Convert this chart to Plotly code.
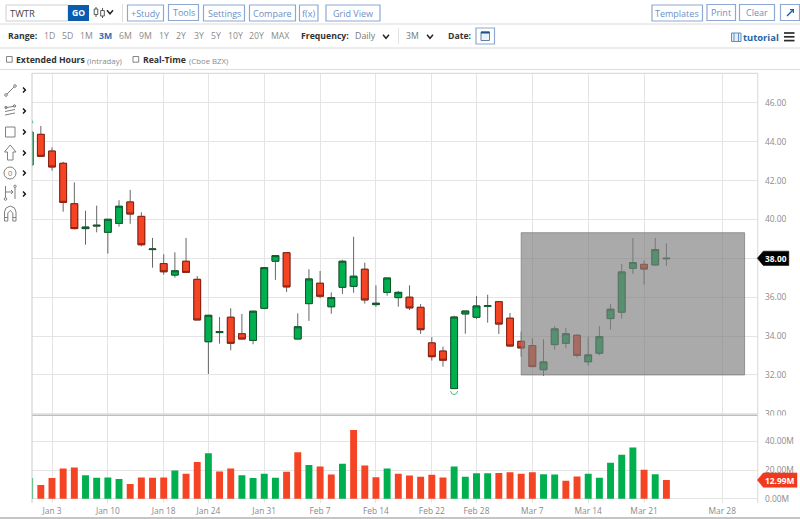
import plotly.graph_objects as go

W, H = 800, 519

# Trading sessions on the axis, followed by the calendar days still to come
sessions = ["Dec 30", "Dec 31", "Jan 3", "Jan 4", "Jan 5", "Jan 6", "Jan 7", "Jan 10", "Jan 11", "Jan 12",
            "Jan 13", "Jan 14", "Jan 18", "Jan 19", "Jan 20", "Jan 21", "Jan 24", "Jan 25", "Jan 26", "Jan 27",
            "Jan 28", "Jan 31", "Feb 1", "Feb 2", "Feb 3", "Feb 4", "Feb 7", "Feb 8", "Feb 9", "Feb 10",
            "Feb 11", "Feb 14", "Feb 15", "Feb 16", "Feb 17", "Feb 18", "Feb 22", "Feb 23", "Feb 24", "Feb 25",
            "Feb 28", "Mar 1", "Mar 2", "Mar 3", "Mar 4", "Mar 7", "Mar 8", "Mar 9", "Mar 10", "Mar 11",
            "Mar 14", "Mar 15", "Mar 16", "Mar 17", "Mar 18", "Mar 21", "Mar 22", "Mar 23", "Mar 24", "Mar 25",
            "Mar 26", "Mar 27", "Mar 28"]
tick_labels = ["Jan 3", "Jan 10", "Jan 18", "Jan 24", "Jan 31", "Feb 7", "Feb 14", "Feb 22", "Feb 28",
               "Mar 7", "Mar 14", "Mar 21", "Mar 28"]

opens = [42.80, 44.38, 43.52, 42.89, 40.81, 39.53, 39.66, 39.34, 39.80, 40.90, 40.16, 38.45, 37.73, 37.14,
         37.85, 36.92, 33.71, 34.18, 34.97, 34.12, 33.78, 35.43, 37.85, 38.29, 33.85, 35.67, 36.72, 35.51,
         36.51, 36.56, 37.44, 35.62, 36.25, 35.98, 36.00, 35.48, 33.65, 33.23, 31.30, 35.14, 34.97, 35.53,
         35.77, 34.92, 33.73, 33.51, 32.27, 33.56, 33.63, 34.04, 32.68, 33.12, 34.90, 35.23, 37.49, 37.69,
         37.66, 37.98]
closes = [44.50, 43.25, 42.70, 40.88, 39.53, 39.61, 39.70, 40.01, 40.68, 40.28, 38.70, 38.48, 37.31, 37.36,
          37.28, 34.83, 35.07, 34.23, 33.63, 33.85, 35.28, 37.52, 38.14, 36.53, 34.48, 36.94, 36.05, 35.98,
          37.85, 37.08, 35.86, 35.69, 36.99, 36.25, 35.45, 34.33, 32.94, 32.76, 34.98, 35.29, 35.55, 35.56,
          34.62, 33.49, 33.39, 32.43, 32.67, 34.37, 34.12, 33.01, 33.03, 33.97, 35.38, 37.30, 37.78, 37.45,
          38.45, 38.00]
highs = [44.90, 44.81, 43.71, 42.97, 41.91, 40.45, 40.71, 40.01, 40.99, 41.52, 40.37, 39.05, 38.21, 38.31,
         39.05, 37.09, 35.09, 34.98, 35.43, 35.14, 35.31, 37.54, 38.17, 38.29, 35.17, 37.44, 37.35, 36.25,
         37.92, 39.11, 37.78, 36.61, 36.99, 36.32, 36.61, 35.65, 33.94, 33.46, 35.05, 35.29, 36.06, 36.13,
         35.81, 35.19, 34.23, 33.89, 33.84, 34.52, 34.43, 34.11, 33.97, 34.52, 35.65, 37.71, 39.05, 37.88,
         39.05, 38.77]
lows = [42.70, 43.21, 42.51, 40.40, 39.49, 38.70, 39.34, 38.24, 39.63, 39.78, 38.62, 37.52, 37.16, 37.01,
        37.25, 34.83, 32.05, 33.61, 33.27, 33.84, 33.58, 35.38, 36.89, 36.27, 33.85, 34.78, 35.95, 35.15,
        36.17, 36.23, 35.67, 35.51, 36.08, 35.51, 35.34, 34.11, 32.74, 32.43, 31.28, 34.12, 34.87, 34.69,
        34.11, 33.46, 32.94, 32.41, 31.95, 33.30, 33.37, 32.89, 32.48, 33.01, 34.33, 34.90, 37.20, 36.65,
        37.64, 37.61]

volumes = [14.4, 9.5, 14.4, 21.0, 21.8, 16.4, 14.6, 14.8, 13.7, 10.2, 14.8, 14.6, 14.8, 19.7, 17.4, 25.5,
           31.7, 19.0, 21.0, 16.4, 14.4, 17.4, 14.6, 18.8, 32.4, 23.4, 22.5, 16.9, 24.3, 47.7, 23.1, 15.0,
           21.0, 17.4, 16.2, 15.3, 16.7, 14.8, 22.5, 15.3, 17.8, 17.8, 18.0, 18.5, 17.4, 18.5, 17.1, 16.9,
           12.5, 15.5, 17.4, 14.6, 25.0, 30.6, 35.6, 20.1, 17.1, 12.99]
volume_up = [1, 0, 0, 0, 0, 1, 1, 1, 1, 0, 0, 0, 0, 1, 0, 0,
             1, 0, 0, 1, 1, 1, 1, 0, 0, 1, 0, 0, 1, 0, 0, 0,
             1, 0, 0, 0, 0, 0, 1, 1, 1, 1, 0, 0, 0, 0, 1, 1,
             0, 0, 1, 1, 1, 1, 1, 0, 1, 0]

price_ticks = [30, 32, 34, 36, 38, 40, 42, 44, 46]
volume_ticks = [0, 20, 40]

# Highlighted box on the price panel (session positions and prices)
box_x = [44, 64]
box_y = [32.0, 39.32]

RED, GREEN = "#f44424", "#00b04f"
RED_EDGE, GREEN_EDGE = "#8a1f10", "#0c5a2c"
GRID = "#e4e4e4"
AXIS_TEXT = "#8a8a8a"
BTN_EDGE, BTN_TEXT = "#8ea8d2", "#6e8fc4"
DARK = "#3c3c3c"
FONT = "Open Sans"


def fx(x):
    return x / W


def fy(y):
    return 1 - y / H


def path(points, close=False):
    d = "M" + " L".join(f"{fx(x):.5f},{fy(y):.5f}" for x, y in points)
    return d + (" Z" if close else "")


shapes = []
annotations = []


def line(points, color=DARK, width=1.0, close=False, fill=None):
    shapes.append(dict(type="path", xref="paper", yref="paper", path=path(points, close),
                       line=dict(color=color, width=width), fillcolor=fill, layer="above"))


def box(x0, y0, x1, y1, edge=None, fill=None, width=1.0):
    shapes.append(dict(type="rect", xref="paper", yref="paper", x0=fx(x0), x1=fx(x1), y0=fy(y0), y1=fy(y1),
                       line=dict(color=edge or "rgba(0,0,0,0)", width=width if edge else 0),
                       fillcolor=fill or "rgba(0,0,0,0)", layer="above"))


def ring(cx, cy, r, color=DARK, width=1.0):
    shapes.append(dict(type="circle", xref="paper", yref="paper", x0=fx(cx - r), x1=fx(cx + r),
                       y0=fy(cy - r), y1=fy(cy + r), line=dict(color=color, width=width), layer="above"))


def label(x, y, text, size=8.8, color=DARK, anchor="left"):
    annotations.append(dict(xref="paper", yref="paper", x=fx(x), y=fy(y), text=text, showarrow=False,
                            xanchor=anchor, yanchor="middle", borderpad=0, borderwidth=0,
                            font=dict(family=FONT, size=size, color=color)))


def button(x0, x1, y0, y1, text):
    box(x0, y0, x1, y1, BTN_EDGE, "white", 1.2)
    if text:
        label((x0 + x1) / 2, (y0 + y1) / 2, text, 9, BTN_TEXT, "center")


def chevron(x, y, size=3.0):
    line([(x - size, y - size * 0.6), (x, y + size * 0.6), (x + size, y - size * 0.6)], "#222", 1.4)


def side_chevron(y):
    line([(23, y - 2.5), (25.4, y), (23, y + 2.5)], "#111", 1.4)


# Top toolbar
for y in (24, 48, 69.5):
    line([(0, y), (W, y)], "#dcdcdc", 1.2)
line([(0, 518), (W, 518)], "#8c8c8c", 1.2)
box(6, 5, 68, 21, "#cfcfcf", "white")
label(10, 13, "TWTR", 9.4, "#444")
box(68, 5, 89, 21, None, "#0b5cad")
label(78.5, 13.2, "<b>GO</b>", 8.6, "white", "center")
line([(96, 7), (96, 17)], "#555", 1)
box(94.2, 9, 97.8, 14.5, "#555", "white")
line([(102.5, 8), (102.5, 18)], "#555", 1)
box(100.7, 10.5, 104.3, 16, "#555", "white")
chevron(110, 12)
line([(122.5, 4), (122.5, 22)], "#dddddd", 1)
for x0, x1, y0, y1, text in [(127.5, 163.5, 5, 21, "+Study"), (168.5, 198.5, 4.5, 20.5, "Tools"),
                             (203.5, 244.5, 5, 21, "Settings"), (249.5, 295.5, 5, 21, "Compare"),
                             (299.5, 318, 5, 21, "f(x)"), (326, 380, 5, 21, "Grid View"),
                             (652, 702.5, 5, 21, "Templates"), (707, 735.5, 4.5, 20.5, "Print"),
                             (739.5, 774.5, 4.5, 20.5, "Clear"), (780.5, 799.5, 4.5, 20.5, "")]:
    button(x0, x1, y0, y1, text)
line([(787, 16), (793, 10)], "#1f5ea8", 1.4)
line([(790, 9.7), (793.4, 9.7), (793.4, 13)], "#1f5ea8", 1.2)

# Range row
label(8, 36, "<b>Range:</b>", 8.7, "#333")
for cx, text in [(49, "1D"), (67, "5D"), (86, "1M"), (125.5, "6M"), (145, "9M"), (163.5, "1Y"), (181, "2Y"),
                 (198.5, "3Y"), (216, "5Y"), (235, "10Y"), (256, "20Y"), (280, "MAX")]:
    label(cx, 36, text, 8.7, "#8a8a8a", "center")
label(105.5, 36, "<b>3M</b>", 8.7, "#2f6fb5", "center")
label(301, 36, "<b>Frequency:</b>", 8.7, "#333")
label(355, 36, "Daily", 8.9, "#777")
chevron(386, 36.5)
line([(398.5, 28), (398.5, 44)], "#e2e2e2", 1)
label(406, 36, "3M", 8.7, "#777")
chevron(430, 36.5)
label(448, 36, "<b>Date:</b>", 8.7, "#333")
box(476, 28, 494.5, 44, BTN_EDGE, "white", 1.2)
box(481, 32, 489.5, 40.5, "#5f7fae", "#eef2f8", 1)
line([(481, 32.5), (489.5, 32.5)], "#1c4f8c", 2)
label(743, 37.5, "<b>tutorial</b>", 9.4, "#24639f")
box(731.5, 33, 741, 41.5, "#5f8fbf", "#e6eef6", 1)
line([(734, 33), (734, 41.5)], "#5f8fbf", 1)
line([(738.5, 33), (738.5, 41.5)], "#5f8fbf", 1)
for y in (33, 36.8, 40.6):
    line([(784, y), (794.5, y)], "#2b2b2b", 1.7)

# Options row
box(6.5, 56.5, 12.2, 62.2, "#777", "white", 0.9)
label(16, 60, "<b>Extended Hours</b>", 8.7, "#333")
label(87, 60.5, "(Intraday)", 7.8, "#8a8a8a")
box(133, 56.5, 138.7, 62.2, "#777", "white", 0.9)
label(143, 60, "<b>Real-Time</b>", 8.7, "#333")
label(189, 60.5, "(Cboe BZX)", 7.8, "#8a8a8a")

# Drawing tools column
ICON = "#808080"
line([(7, 94), (14, 87)], ICON)
ring(6, 95, 1.3, ICON)
ring(15, 86, 1.3, ICON)
line([(5, 108), (15, 106)], ICON)
line([(5, 111.5), (15, 109.5)], ICON)
line([(5, 115), (15, 113)], ICON)
ring(6, 107.5, 1.2, ICON)
ring(14.5, 106, 1.2, ICON)
box(5.5, 127, 15, 137, ICON, None)
line([(10.2, 145), (16, 152), (13, 152), (13, 160), (7.5, 160), (7.5, 152), (4.5, 152)], ICON, close=True)
ring(10, 173, 6, ICON)
label(10, 173, "0", 7.5, ICON, "center")
line([(5.5, 186), (5.5, 198)], ICON)
ring(5.5, 199, 1.3, ICON)
line([(5.5, 192), (13, 192)], ICON)
line([(11, 190), (13, 192), (11, 194)], ICON)
line([(15, 187.5), (15, 199)], ICON)
ring(15, 186.3, 1.2, ICON)
line([(4.5, 221), (4.5, 212), (6, 208), (10.2, 206), (14.5, 208), (16, 212), (16, 221), (12.8, 221), (12.8, 213),
      (10.2, 210.5), (7.8, 213), (7.8, 221)], ICON, close=True)
line([(4.5, 217.5), (7.8, 217.5)], ICON)
line([(12.8, 217.5), (16, 217.5)], ICON)
for y in (90, 111, 132, 153, 173, 194):
    side_chevron(y)

# Panel frame: the volume panel hides whatever of the price axis runs below it
box(758.5, 415.6, W, 434, None, "white")
line([(32, 73.3), (758, 73.3)], "#dcdcdc", 1.2)
line([(32, 415.2), (758, 415.2)], "#bdbdbd", 1.5)
line([(32, 73), (32, 503)], "#cfcfcf", 1.1)
line([(757.7, 73), (757.7, 503)], "#dcdcdc", 1.1)

# Highlighted box over the candles
shapes.append(dict(type="rect", xref="x", yref="y", x0=box_x[0], x1=box_x[1], y0=box_y[0], y1=box_y[1],
                   fillcolor="rgba(128,128,128,0.67)", line=dict(color="rgba(120,120,120,0.7)", width=1),
                   layer="above"))

# Small arcs marking the period extremes
low_i = lows.index(min(lows))
shapes.append(dict(type="path", xref="x", yref="y", xsizemode="pixel", ysizemode="pixel",
                   xanchor=low_i, yanchor=lows[low_i],
                   path="M-3.6,-2 Q-3,-5.5 0,-5.6 Q3,-5.5 3.6,-2",
                   line=dict(color="#35c07a", width=1), layer="above"))
shapes.append(dict(type="path", xref="x", yref="y", xsizemode="pixel", ysizemode="pixel",
                   xanchor=0, yanchor=highs[0],
                   path="M2,4 L3.5,1", line=dict(color="#35c07a", width=1), layer="above"))

# Last value tags on the right of each panel
for ref, value, fill, text in [("y", closes[-1], "#000000", f"{closes[-1]:.2f}"),
                               ("y2", volumes[-1], "#f03a1e", f"{volumes[-1]:.2f}M")]:
    right = 31.5 if ref == "y" else 39.7
    shapes.append(dict(type="path", xref="paper", yref=ref, xsizemode="pixel", ysizemode="pixel",
                       xanchor=757.3 / W, yanchor=value,
                       path=f"M0,0 L6,-7.2 L{right},-7.2 L{right},7.2 L6,7.2 Z",
                       fillcolor=fill, line=dict(color=fill, width=0.5), layer="above"))
    annotations.append(dict(xref="paper", yref=ref, x=(757.3 + (right + 6) / 2) / W, y=value, text=f"<b>{text}</b>",
                            showarrow=False, xanchor="center", yanchor="middle",
                            font=dict(family=FONT, size=8.4, color="white")))

x_all = list(range(len(opens)))
tick_x = [sessions.index(t) for t in tick_labels]

fig = go.Figure()
# Wicks first, then the bodies without wicks on top so each can carry its own colour
fig.add_trace(go.Candlestick(x=x_all, open=opens, high=highs, low=lows, close=closes, xaxis="x", yaxis="y",
                             increasing=dict(line=dict(color="#666666", width=1), fillcolor="#666666"),
                             decreasing=dict(line=dict(color="#666666", width=1), fillcolor="#666666"),
                             showlegend=False))
fig.add_trace(go.Candlestick(x=x_all, open=opens, close=closes,
                             high=[max(o, c) for o, c in zip(opens, closes)],
                             low=[min(o, c) for o, c in zip(opens, closes)], xaxis="x", yaxis="y",
                             increasing=dict(line=dict(color=GREEN_EDGE, width=1), fillcolor=GREEN),
                             decreasing=dict(line=dict(color=RED_EDGE, width=1), fillcolor=RED),
                             showlegend=False))
fig.add_trace(go.Bar(x=x_all, y=volumes, xaxis="x2", yaxis="y2", width=0.62, showlegend=False,
                     marker=dict(color=[GREEN if u else RED for u in volume_up], line=dict(width=0))))

x_range = [0.21, 65.2]
fig.update_layout(
    width=W, height=H, autosize=False, margin=dict(l=0, r=0, t=0, b=0, autoexpand=False),
    paper_bgcolor="white", plot_bgcolor="white", font=dict(family=FONT, color=AXIS_TEXT),
    hovermode=False, bargap=0.3, boxgap=0.22, boxgroupgap=0.22, shapes=shapes, annotations=annotations,
    xaxis=dict(domain=[32 / W, 758 / W], range=x_range, rangeslider=dict(visible=False), tickvals=tick_x,
               showticklabels=False, showgrid=True, gridcolor=GRID, gridwidth=1, zeroline=False, anchor="y", ticks=""),
    yaxis=dict(domain=[fy(415), fy(73.3)], range=[29.94, 47.52], side="right", anchor="x", tickvals=price_ticks,
               tickformat=".2f", showgrid=True, gridcolor=GRID, gridwidth=1, zeroline=False,
               tickfont=dict(family=FONT, size=8.4, color=AXIS_TEXT), ticks="", ticklabelstandoff=6),
    xaxis2=dict(domain=[32 / W, 758 / W], range=x_range, tickvals=tick_x, ticktext=tick_labels, showgrid=True,
                gridcolor=GRID, gridwidth=1, zeroline=False, anchor="y2", ticks="", ticklabelstandoff=2,
                tickfont=dict(family=FONT, size=8.4, color=AXIS_TEXT)),
    yaxis2=dict(domain=[fy(503), fy(415.5)], range=[-2.92, 57.85], side="right", anchor="x2", tickvals=volume_ticks,
                ticktext=[f"{v:.2f}M" for v in volume_ticks], showgrid=True, gridcolor=GRID, gridwidth=1,
                zeroline=False, tickfont=dict(family=FONT, size=8.4, color=AXIS_TEXT), ticks="", ticklabelstandoff=6),
)

fig.write_html("out.html", config=dict(displayModeBar=False))
